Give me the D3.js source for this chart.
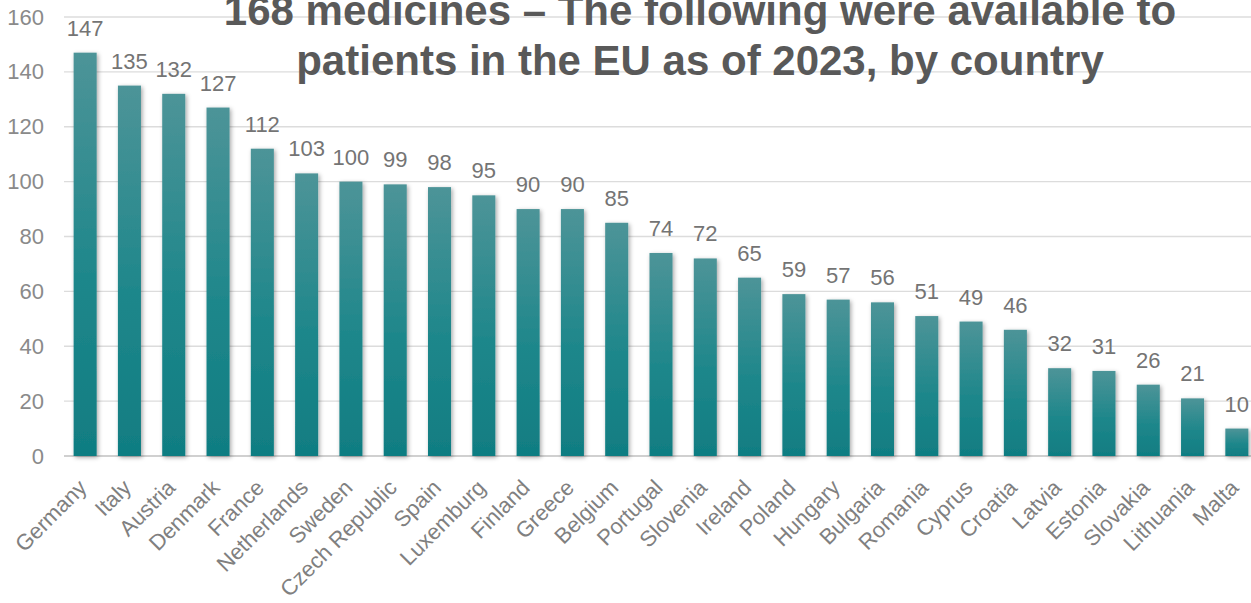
<!DOCTYPE html>
<html><head><meta charset="utf-8">
<script src="https://cdn.jsdelivr.net/npm/d3@7"></script>
<style>body{margin:0;background:#fff;}svg{display:block;font-family:"Liberation Sans",Arial,sans-serif;}</style>
</head><body><svg id="c" width="1251" height="603"></svg>
<script>
const countries = ["Germany","Italy","Austria","Denmark","France","Netherlands","Sweden","Czech Republic","Spain","Luxemburg","Finland","Greece","Belgium","Portugal","Slovenia","Ireland","Poland","Hungary","Bulgaria","Romania","Cyprus","Croatia","Latvia","Estonia","Slovakia","Lithuania","Malta"];
const values = [147,135,132,127,112,103,100,99,98,95,90,90,85,74,72,65,59,57,56,51,49,46,32,31,26,21,10];
const yTicks = [0,20,40,60,80,100,120,140,160];
const titleLines = ["168 medicines \u2013 The following were available to","patients in the EU as of 2023, by country"];

const svg = d3.select("#c");
const x = d3.scaleBand().domain(countries).range([63, 1259]).paddingInner(0.48).paddingOuter(0.24);
const y = d3.scaleLinear().domain([0,160]).range([456, 17]);

const defs = svg.append("defs");
const g = defs.append("linearGradient").attr("id","bg").attr("x1",0).attr("y1",0).attr("x2",0).attr("y2",1);
g.append("stop").attr("offset","0%").attr("stop-color","#4d9498");
g.append("stop").attr("offset","55%").attr("stop-color","#1f878b");
g.append("stop").attr("offset","100%").attr("stop-color","#107d82");
const f = defs.append("filter").attr("id","sh").attr("x","-50%").attr("y","-20%").attr("width","200%").attr("height","140%");
f.append("feDropShadow").attr("dx",1.5).attr("dy",1.5).attr("stdDeviation",2).attr("flood-color","#000").attr("flood-opacity",0.35);

// gridlines
svg.append("g").selectAll("line").data(yTicks).join("line")
  .attr("x1",64).attr("x2",1251).attr("y1",d=>y(d)).attr("y2",d=>y(d))
  .attr("stroke",d=>d===0?"#d0d0d0":"#dcdcdc").attr("stroke-width",d=>d===0?2:1.3);

// y axis labels
const ya = svg.append("g").attr("transform","translate(44,0)").call(d3.axisLeft(y).tickValues(yTicks).tickSize(0).tickPadding(0));
ya.select(".domain").remove();
ya.selectAll("text").attr("font-size",22).attr("fill","#8a8a8a").attr("font-family","Liberation Sans, Arial, sans-serif");

// bars
svg.append("g").selectAll("rect").data(countries).join("rect")
  .attr("x",d=>x(d)).attr("width",x.bandwidth())
  .attr("y",(d,i)=>y(values[i])).attr("height",(d,i)=>y(0)-y(values[i]))
  .attr("fill","url(#bg)").attr("filter","url(#sh)");

// value labels
svg.append("g").selectAll("text").data(countries).join("text")
  .attr("x",d=>x(d)+x.bandwidth()/2).attr("y",(d,i)=>y(values[i])-17)
  .attr("text-anchor","middle").attr("font-size",22).attr("fill","#747474")
  .text((d,i)=>values[i]);

// x labels
svg.append("g").selectAll("text").data(countries).join("text")
  .attr("transform",d=>`translate(${x(d)+x.bandwidth()/2+3},489) rotate(-45)`)
  .attr("text-anchor","end").attr("font-size",22).attr("fill","#808080")
  .text(d=>d);

// title
svg.append("g").selectAll("text").data(titleLines).join("text")
  .attr("x",700).attr("y",(d,i)=>25+i*50).attr("text-anchor","middle")
  .attr("font-size",42).attr("font-weight","bold").attr("fill","#595959").text(d=>d);
</script></body></html>
